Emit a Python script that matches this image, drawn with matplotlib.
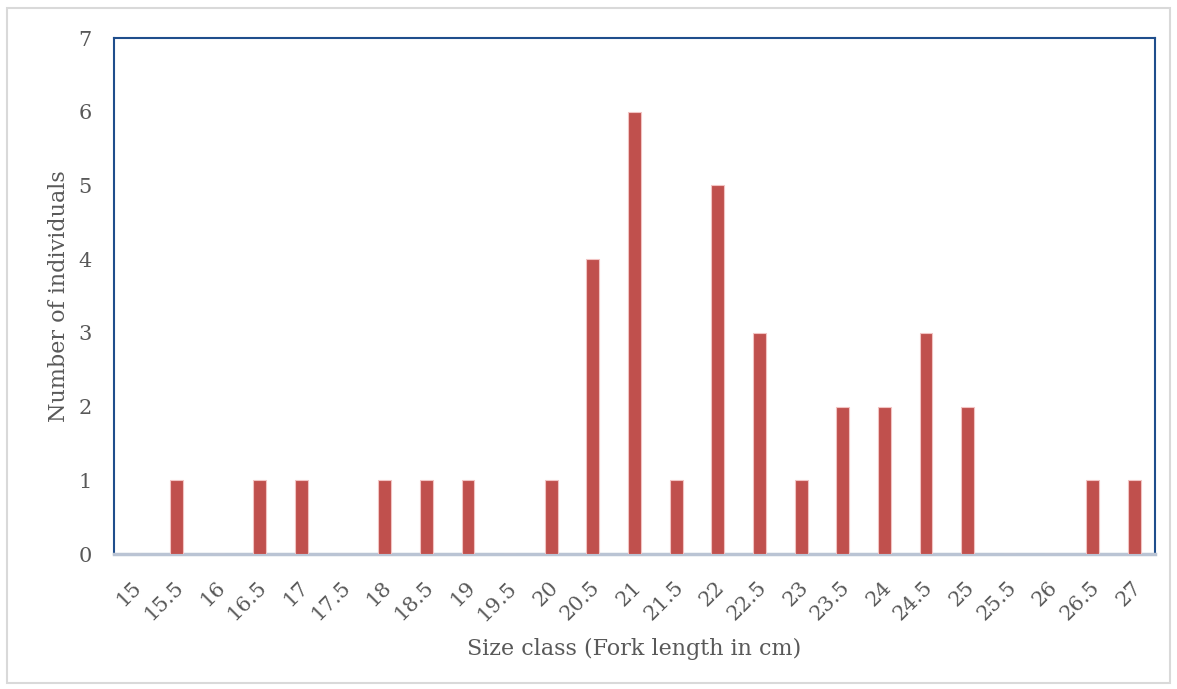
import matplotlib
matplotlib.use('Agg')
from matplotlib import pyplot as plt
from matplotlib.patches import Rectangle
from matplotlib.transforms import ScaledTranslation

# fork length classes (cm) and counts per class
size_classes = ['15', '15.5', '16', '16.5', '17', '17.5', '18', '18.5', '19', '19.5',
                '20', '20.5', '21', '21.5', '22', '22.5', '23', '23.5', '24', '24.5',
                '25', '25.5', '26', '26.5', '27']
counts = [0, 1, 0, 1, 1, 0, 1, 1, 1, 0,
          1, 4, 6, 1, 5, 3, 1, 2, 2, 3,
          2, 0, 0, 1, 1]

plt.rcParams['font.family'] = ['DejaVu Serif']
text_color = '#595959'

fig = plt.figure(figsize=(11.77, 6.89), dpi=100)
ax = fig.add_axes([0.0969, 0.1959, 0.8844, 0.7489])

# light grey chart-area frame
fig.patches.append(Rectangle((0.006, 0.008), 0.988, 0.98, transform=fig.transFigure,
                             fill=False, edgecolor='#D9D9D9', linewidth=1.5))

x = range(len(size_classes))
ax.bar(x, counts, width=0.31, color='#C0504D', edgecolor='#F2C4C3', linewidth=0.8, zorder=3)

ax.set_xlim(-0.5, len(size_classes) - 0.5)
ax.set_ylim(0, 7)
ax.set_yticks(range(0, 8))
ax.set_xticks(list(x))
ax.set_xticklabels(size_classes, rotation=45, ha='right', va='center', rotation_mode='anchor')
ax.tick_params(length=0, labelsize=15, colors=text_color)
ax.tick_params(axis='y', pad=16)
ax.tick_params(axis='x', pad=22)

# nudge the rotated labels a little to the right
shift = ScaledTranslation(4 / 100, 0, fig.dpi_scale_trans)
for lbl in ax.get_xticklabels():
    lbl.set_transform(lbl.get_transform() + shift)

for side in ['top', 'left', 'right']:
    ax.spines[side].set_color('#1F4E8C')
    ax.spines[side].set_linewidth(1.5)
ax.spines['bottom'].set_color('#BAC4D4')
ax.spines['bottom'].set_linewidth(2.5)

ax.set_xlabel('Size class (Fork length in cm)', fontsize=16, color=text_color, labelpad=10)
ax.set_ylabel('Number of individuals', fontsize=16, color=text_color, labelpad=6)

fig.savefig('out.png', dpi=100)
